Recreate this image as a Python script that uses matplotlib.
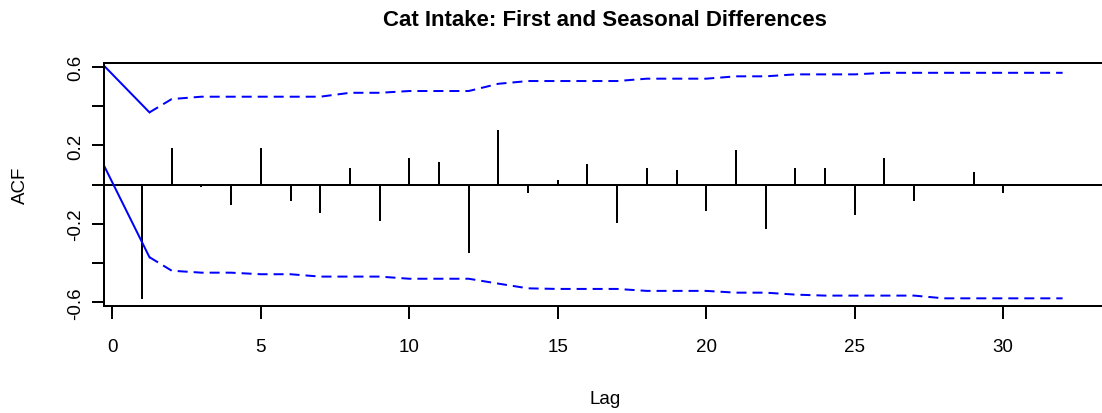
import numpy as np
import matplotlib.pyplot as plt

plt.rcParams['font.family'] = ['Liberation Sans', 'DejaVu Sans']

# autocorrelations of the differenced series, lags 1..32
lags = list(range(1, 33))
acf = [-0.583, 0.187, -0.013, -0.104, 0.187, -0.085, -0.146, 0.085,
       -0.187, 0.136, 0.114, -0.350, 0.279, -0.044, 0.024, 0.104,
       -0.197, 0.085, 0.073, -0.136, 0.177, -0.228, 0.085, 0.085,
       -0.156, 0.136, -0.085, 0.0, 0.065, -0.044, 0.0, 0.0]

# confidence band, lead-in segment (solid) and the rest (dashed)
lead_x = [-0.28, 1.25]
lead_upper = [0.607, 0.369]
lead_lower = [0.097, -0.370]

band_x = [1.25] + list(range(2, 33))
band_upper = [0.369, 0.437, 0.449, 0.449, 0.449, 0.449, 0.449, 0.469,
              0.469, 0.478, 0.478, 0.478, 0.515, 0.529, 0.529, 0.529,
              0.529, 0.541, 0.541, 0.541, 0.553, 0.553, 0.563, 0.563,
              0.563, 0.571, 0.571, 0.571, 0.571, 0.571, 0.571, 0.571]
band_lower = [-0.370, -0.439, -0.449, -0.449, -0.457, -0.457, -0.469, -0.469,
              -0.469, -0.480, -0.480, -0.480, -0.505, -0.529, -0.532, -0.532,
              -0.532, -0.542, -0.542, -0.542, -0.551, -0.551, -0.561, -0.566,
              -0.566, -0.566, -0.566, -0.580, -0.580, -0.580, -0.580, -0.580]

xticks = [0, 5, 10, 15, 20, 25, 30]
yticks = [-0.6, -0.4, -0.2, 0.0, 0.2, 0.4, 0.6]
ytick_labels = ['-0.6', '', '-0.2', '', '0.2', '', '0.6']

fig = plt.figure(figsize=(11.02, 4.14), dpi=100)
ax = fig.add_axes([0.0944, 0.2585, 0.9092, 0.5869])

lw = 1.44
ax.vlines(lags, 0, acf, color='black', lw=lw)
ax.axhline(0, color='black', lw=lw)

ax.plot(lead_x, lead_upper, color='blue', lw=lw)
ax.plot(lead_x, lead_lower, color='blue', lw=lw)
ax.plot(band_x, band_upper, color='blue', lw=lw, linestyle=(0, (5, 3)))
ax.plot(band_x, band_lower, color='blue', lw=lw, linestyle=(0, (5, 3)))

ax.set_xlim(-0.28, 33.46)
ax.set_ylim(-0.619, 0.621)

ax.set_xticks(xticks)
ax.set_yticks(yticks)
ax.set_yticklabels(ytick_labels, rotation=90, va='center')
ax.tick_params(direction='out', length=9, width=lw, labelsize=13.5, pad=5)
ax.tick_params(axis='x', pad=14)
for s in ax.spines.values():
    s.set_linewidth(lw)

ax.set_xlabel('Lag', fontsize=13.5, labelpad=25)
ax.set_ylabel('ACF', fontsize=13.5, labelpad=28)
fig.suptitle('Cat Intake: First and Seasonal Differences', fontsize=16,
             fontweight='bold', x=0.549, y=0.975)

fig.savefig('out.png', dpi=100)
